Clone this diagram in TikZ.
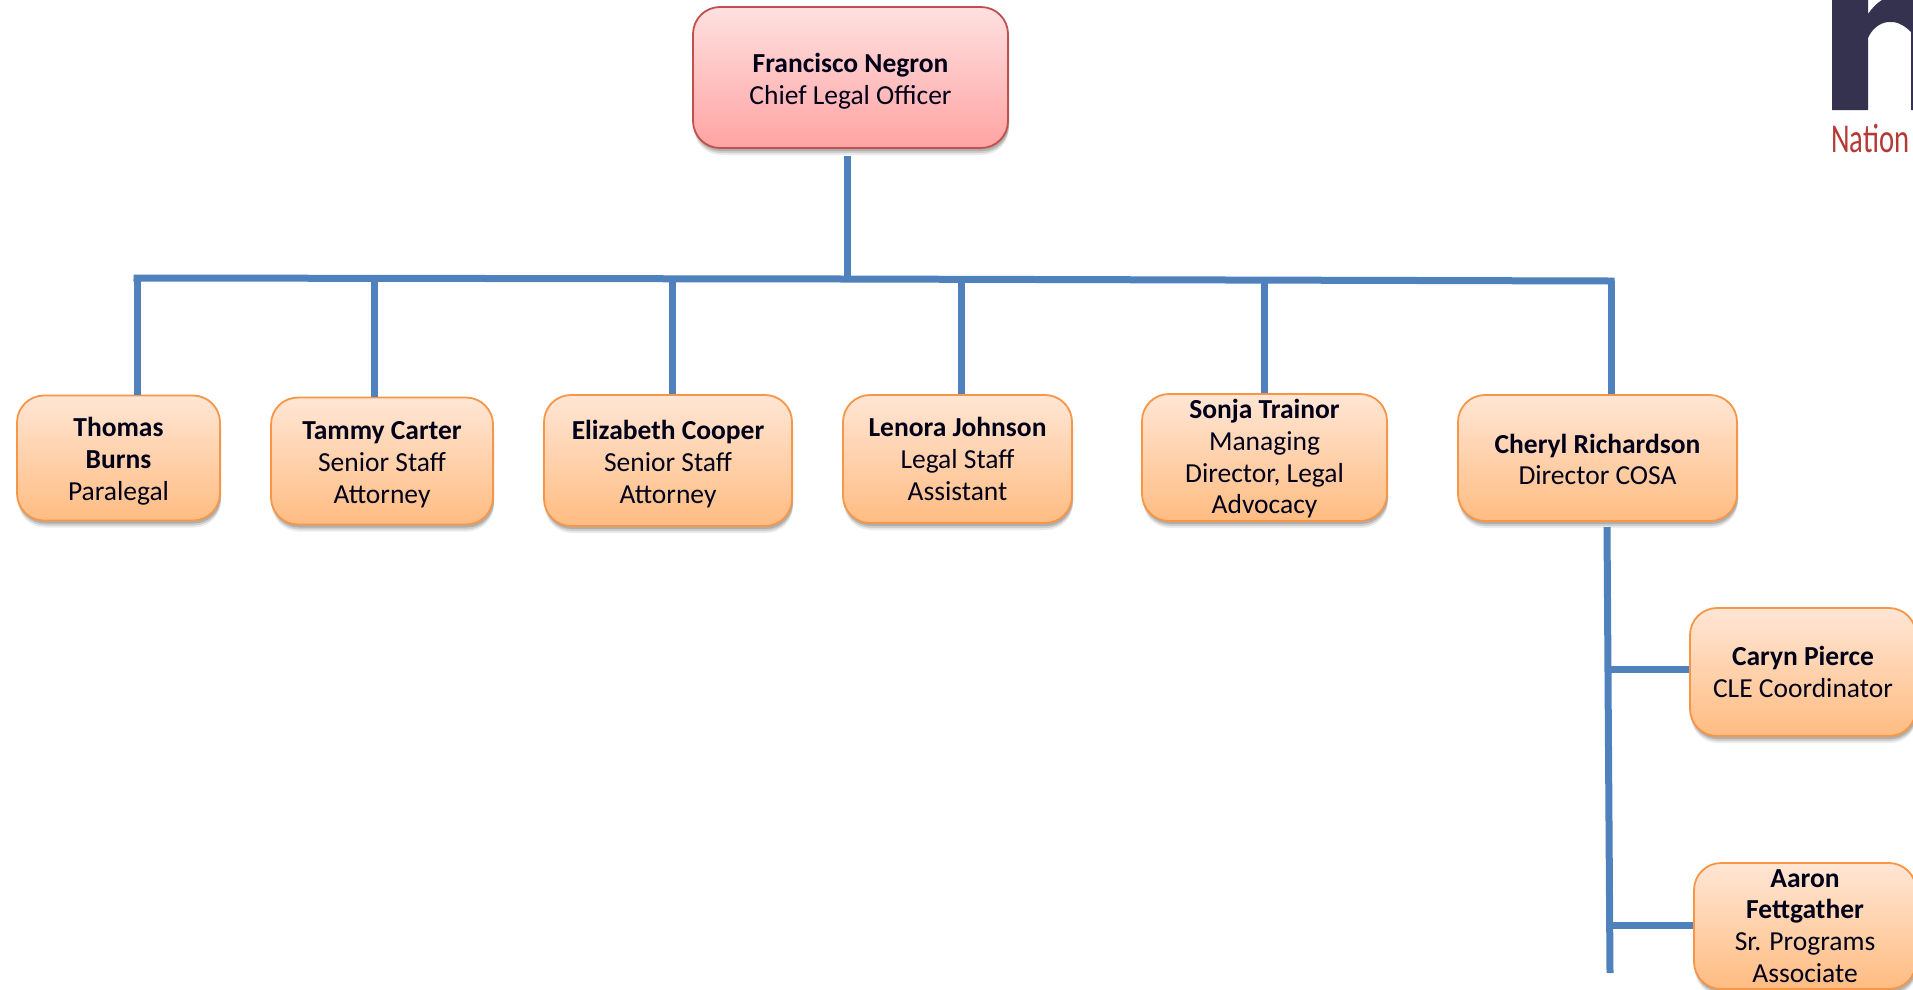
\documentclass[tikz,border=0pt]{standalone}
\usepackage{fontspec}
\setmainfont{Carlito}
\usetikzlibrary{shadows,calc}
\definecolor{busblue}{HTML}{4F81BD}
\definecolor{logonavy}{HTML}{34324F}
\definecolor{logored}{HTML}{B53A36}
\definecolor{staffTop}{HTML}{FFE6D5}
\definecolor{staffBot}{HTML}{FFBC82}
\definecolor{staffEdge}{HTML}{F79646}
\definecolor{chiefTop}{HTML}{FFE0E0}
\definecolor{chiefBot}{HTML}{FFA3A3}
\definecolor{chiefEdge}{HTML}{C0504D}
\tikzset{
  x=1pt,y=-1pt,
  softshadow/.style={
    drop shadow={shadow xshift=1pt,shadow yshift=-7pt,opacity=.08,fill=black},
    drop shadow={shadow xshift=1pt,shadow yshift=-5pt,opacity=.12,fill=black},
    drop shadow={shadow xshift=1pt,shadow yshift=-3pt,opacity=.15,fill=black}},
  personbox/.style={draw=#1,line width=1.8pt,rounded corners=27pt,inner sep=0pt,align=center,
    text=black!90!blue,font=\fontsize{27.5}{31.8}\selectfont,softshadow},
  staffbox/.style={personbox=staffEdge,top color=staffTop,bottom color=staffBot},
  chiefbox/.style={personbox=chiefEdge,top color=chiefTop,bottom color=chiefBot},
  bus/.style={draw=busblue,line width=7pt},
}
\newcommand{\nm}[1]{\textbf{#1}}
\newcommand{\pad}[1]{\rule{0pt}{#1pt}}
\begin{document}
\begin{tikzpicture}
\useasboundingbox (0,0) rectangle (1913,989);
\clip (0,0) rectangle (1913,989);
\fill[white] (0,0) rectangle (1913,989);
% logo
\fill[logonavy] (1832,0) -- (1868,0) -- (1868,14)
  .. controls (1872,8) and (1877,3) .. (1882,0) -- (1913,0) -- (1913,110) -- (1911,110) -- (1911,32)
  .. controls (1903,24) and (1895,21) .. (1888,22)
  .. controls (1879,23) and (1872,29) .. (1868,38) -- (1868,110) -- (1832,110) -- cycle;
\node[anchor=base west,inner sep=0pt,text=logored,font=\fontsize{41}{41}\selectfont,xscale=.7,transform shape] (logotext) at (1831,152) {Nation};
% boxes
\node[chiefbox,minimum width=315pt,minimum height=141pt] (fn) at (850.5,77.5) {\pad{27}\nm{Francisco Negron}\\Chief Legal Officer};
\node[staffbox,minimum width=203pt,minimum height=125pt] (tb) at (118.5,458) {\pad{26}\nm{Thomas}\\\nm{Burns}\\Paralegal};
\node[staffbox,minimum width=222pt,minimum height=127pt] (tc) at (382,461) {\pad{26}\nm{Tammy Carter}\\Senior Staff\\Attorney};
\node[staffbox,minimum width=248pt,minimum height=131pt] (ec) at (668,460.5) {\pad{26}\nm{Elizabeth Cooper}\\Senior Staff\\Attorney};
\node[staffbox,minimum width=229pt,minimum height=128pt] (lj) at (957.5,459) {\nm{Lenora Johnson}\\Legal Staff\\Assistant};
\node[staffbox,minimum width=245pt,minimum height=127pt] (st) at (1264.5,457.5) {\pad{22}\nm{Sonja Trainor}\\Managing\\Director, Legal\\Advocacy};
\node[staffbox,minimum width=279pt,minimum height=126pt] (cr) at (1597.5,458) {\pad{22}\nm{Cheryl Richardson}\\Director COSA};
\node[staffbox,minimum width=226pt,minimum height=128pt] (cp) at (1803,672) {\nm{Caryn Pierce}\\CLE Coordinator};
\node[staffbox,minimum width=222pt,minimum height=126pt] (af) at (1805,926) {\nm{Aaron}\\\nm{Fettgather}\\Sr. Programs\\Associate};
% connector points
\coordinate (hub) at (847,279);
\coordinate (busL) at (137,278);
\coordinate (busR) at (1611,281);
\coordinate (btc) at (374,279);
\coordinate (bec) at (672,279);
\coordinate (blj) at (961,280);
\coordinate (bst) at (1264,280);
\coordinate (crtop) at (1607,527);
\coordinate (crend) at (1610,973);
\coordinate (jcp) at (1609,669);
\coordinate (jaf) at (1610,925);
% connectors
\draw[bus] ($(fn.south)+(-3.5,7)$) -- (hub);
\draw[bus,line cap=rect] (busL) -- (hub) -- (busR);
\draw[bus] (busL) -- (busL |- tb.north);
\draw[bus] (btc) -- (btc |- tc.north);
\draw[bus] (bec) -- (bec |- ec.north);
\draw[bus] (blj) -- (blj |- lj.north);
\draw[bus] (bst) -- (bst |- st.north);
\draw[bus] (busR) -- (busR |- cr.north);
\draw[bus] (crtop) -- (crend);
\draw[bus] (jcp) -- (jcp -| cp.west);
\draw[bus] (jaf) -- (jaf -| af.west);
\end{tikzpicture}
\end{document}
